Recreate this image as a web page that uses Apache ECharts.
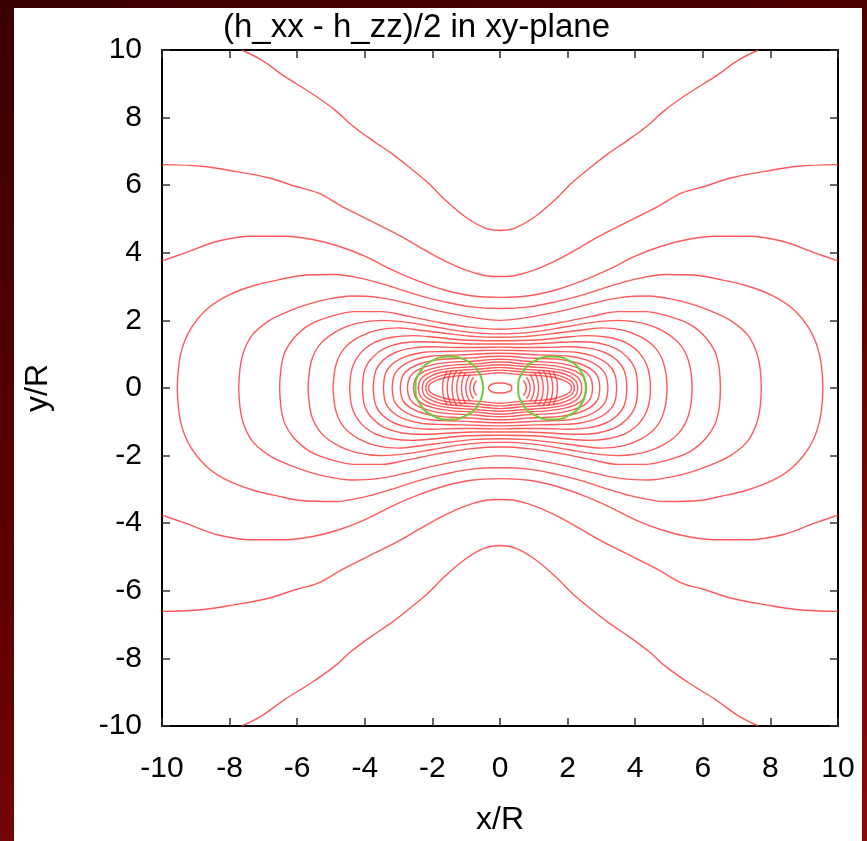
<!DOCTYPE html>
<html>
<head>
<meta charset="utf-8">
<script src="https://cdn.jsdelivr.net/npm/echarts@6/dist/echarts.min.js"></script>
<style>
    html, body {
        margin: 0;
        width: 867px;
        height: 841px;
        overflow: hidden;
        background: linear-gradient(160deg, #3a0000 0%, #5a0000 45%, #8a0a0a 100%);
    }
    #panel {
        position: absolute;
        left: 14px;
        top: 8px;
        width: 848px;
        height: 833px;
        background: #fff;
    }
</style>
</head>
<body>
<div id="panel"></div>
<script>
// tick labels
const xTicks = [-10, -8, -6, -4, -2, 0, 2, 4, 6, 8, 10]
const yTicks = [-10, -8, -6, -4, -2, 0, 2, 4, 6, 8, 10]

// contours read off the upper-left quarter (the plot is symmetric in x and y)
// open curves run from the frame to the y axis
const open1 = [[-7.64, 10], [-7.05, 9.7], [-6.36, 9.21], [-5.58, 8.72], [-4.89, 8.23], [-4.4, 7.79], [-3.81, 7.35], [-3.22, 6.95], [-2.72, 6.56], [-2.13, 6.07], [-1.64, 5.58], [-1.05, 5.08], [-0.46, 4.74], [0, 4.66]]
const open2 = [[-10, 6.61], [-8.82, 6.56], [-7.84, 6.41], [-6.85, 6.22], [-6.07, 5.97], [-5.38, 5.77], [-4.69, 5.38], [-3.9, 4.98], [-3.12, 4.59], [-2.43, 4.2], [-1.74, 3.81], [-1.05, 3.5], [-0.46, 3.33], [0, 3.3]]
const open3 = [[-10, 3.76], [-9.31, 4.0], [-8.33, 4.35], [-7.35, 4.49], [-6.36, 4.49], [-5.58, 4.4], [-4.79, 4.2], [-4.0, 3.9], [-3.22, 3.51], [-2.43, 3.17], [-1.64, 2.9], [-0.86, 2.73], [0, 2.68]]

// closed loops run from their left end on y = 0 to the y axis
const loop4 = [[-9.55, 0], [-9.45, 1.0], [-9.15, 1.75], [-8.65, 2.35], [-8.03, 2.75], [-7.25, 3.04], [-6.56, 3.2], [-5.87, 3.33], [-4.9, 3.36], [-4.0, 3.22], [-3.22, 3.0], [-2.43, 2.75], [-1.64, 2.55], [-0.86, 2.4], [0, 2.35]]
const loop5 = [[-7.73, 0], [-7.64, 0.88], [-7.35, 1.54], [-6.85, 1.98], [-6.26, 2.27], [-5.67, 2.48], [-5.08, 2.63], [-4.4, 2.72], [-3.6, 2.68], [-2.8, 2.52], [-2.0, 2.32], [-1.0, 2.12], [0, 2.0]]
const loop6 = [[-6.52, 0], [-6.42, 0.9], [-6.12, 1.45], [-5.62, 1.88], [-5.0, 2.12], [-4.3, 2.26], [-3.5, 2.26], [-2.7, 2.12], [-1.8, 1.94], [-0.9, 1.8], [0, 1.74]]
const loop7 = [[-5.68, 0], [-5.58, 0.8], [-5.3, 1.32], [-4.8, 1.7], [-4.2, 1.92], [-3.5, 2.0], [-2.8, 1.95], [-2.0, 1.82], [-1.0, 1.66], [0, 1.6]]
const loop8 = [[-4.94, 0], [-4.85, 0.7], [-4.6, 1.18], [-4.15, 1.52], [-3.6, 1.72], [-3.0, 1.78], [-2.3, 1.7], [-1.5, 1.6], [-0.7, 1.52], [0, 1.5]]
const loop9 = [[-4.45, 0], [-4.37, 0.6], [-4.12, 1.04], [-3.72, 1.34], [-3.2, 1.5], [-2.6, 1.55], [-1.9, 1.5], [-1.1, 1.42], [0, 1.4]]
const loop10 = [[-4.07, 0], [-4.0, 0.55], [-3.76, 0.92], [-3.4, 1.18], [-2.9, 1.33], [-2.3, 1.37], [-1.6, 1.34], [-0.8, 1.3], [0, 1.3]]
const loop11 = [[-3.75, 0], [-3.68, 0.5], [-3.46, 0.82], [-3.1, 1.05], [-2.6, 1.18], [-2.0, 1.22], [-1.3, 1.2], [-0.6, 1.2], [0, 1.21]]
const loop12 = [[-3.45, 0], [-3.38, 0.45], [-3.16, 0.73], [-2.8, 0.93], [-2.3, 1.05], [-1.7, 1.08], [-1.1, 1.09], [-0.5, 1.11], [0, 1.12]]
const loop13 = [[-3.19, 0], [-3.12, 0.4], [-2.9, 0.65], [-2.55, 0.83], [-2.05, 0.94], [-1.5, 0.97], [-0.9, 0.99], [-0.4, 1.02], [0, 1.03]]
const loop14 = [[-2.95, 0], [-2.88, 0.36], [-2.66, 0.58], [-2.3, 0.74], [-1.8, 0.84], [-1.3, 0.87], [-0.8, 0.89], [-0.35, 0.93], [0, 0.94]]
const loop15 = [[-2.74, 0], [-2.67, 0.32], [-2.46, 0.52], [-2.1, 0.66], [-1.6, 0.75], [-1.1, 0.78], [-0.7, 0.8], [-0.3, 0.84], [0, 0.85]]
const loop16 = [[-2.56, 0], [-2.5, 0.28], [-2.3, 0.46], [-1.95, 0.59], [-1.45, 0.67], [-0.95, 0.7], [-0.6, 0.72], [-0.25, 0.76], [0, 0.77]]
const loop17 = [[-2.42, 0], [-2.36, 0.24], [-2.18, 0.4], [-1.85, 0.52], [-1.4, 0.59], [-0.95, 0.62], [-0.55, 0.65], [-0.2, 0.68], [0, 0.69]]
const loop18 = [[-2.3, 0], [-2.25, 0.2], [-2.08, 0.34], [-1.78, 0.45], [-1.35, 0.51], [-0.95, 0.54], [-0.5, 0.57], [-0.2, 0.6], [0, 0.61]]
const loop19 = [[-2.2, 0], [-2.15, 0.16], [-1.98, 0.28], [-1.7, 0.38], [-1.3, 0.44], [-0.9, 0.46], [-0.5, 0.49], [-0.2, 0.52], [0, 0.53]]
const loop20 = [[-2.12, 0], [-2.07, 0.12], [-1.9, 0.22], [-1.62, 0.31], [-1.25, 0.36], [-0.85, 0.38], [-0.45, 0.41], [-0.2, 0.44], [0, 0.45]]

// small arcs next to each source, and the little ring at the origin
const arcsLeft = [
    [[-1.56, 0.5], [-1.7, 0], [-1.56, -0.5]],
    [[-1.42, 0.52], [-1.56, 0], [-1.42, -0.52]],
    [[-1.28, 0.52], [-1.42, 0], [-1.28, -0.52]],
    [[-1.14, 0.5], [-1.28, 0], [-1.14, -0.5]],
    [[-1.01, 0.46], [-1.14, 0], [-1.01, -0.46]],
    [[-0.89, 0.4], [-1.01, 0], [-0.89, -0.4]],
    [[-0.78, 0.32], [-0.89, 0], [-0.78, -0.32]],
    [[-0.69, 0.22], [-0.78, 0], [-0.69, -0.22]]
]
const arcsRight = [
    [[1.56, 0.5], [1.7, 0], [1.56, -0.5]],
    [[1.42, 0.52], [1.56, 0], [1.42, -0.52]],
    [[1.28, 0.52], [1.42, 0], [1.28, -0.52]],
    [[1.14, 0.5], [1.28, 0], [1.14, -0.5]],
    [[1.01, 0.46], [1.14, 0], [1.01, -0.46]],
    [[0.89, 0.4], [1.01, 0], [0.89, -0.4]],
    [[0.78, 0.32], [0.89, 0], [0.78, -0.32]],
    [[0.69, 0.22], [0.78, 0], [0.69, -0.22]]
]
const ring = [[-0.35, 0], [-0.25, 0.11], [0, 0.15], [0.25, 0.11], [0.35, 0], [0.25, -0.11], [0, -0.15], [-0.25, -0.11], [-0.35, 0]]

// green circles
const circleLeft = [[-0.5, 0], [-0.63, 0.47], [-1.0, 0.81], [-1.5, 0.93], [-2.0, 0.81], [-2.37, 0.47], [-2.5, 0], [-2.37, -0.47], [-2.0, -0.81], [-1.5, -0.93], [-1.0, -0.81], [-0.63, -0.47], [-0.5, 0]]
const circleRight = [[2.54, 0], [2.41, 0.47], [2.04, 0.81], [1.54, 0.93], [1.04, 0.81], [0.67, 0.47], [0.54, 0], [0.67, -0.47], [1.04, -0.81], [1.54, -0.93], [2.04, -0.81], [2.41, -0.47], [2.54, 0]]

const redLine = { color: '#ff3030', width: 1.4, opacity: 0.8 }

function mirrorX (q) {
    return q.concat(q.slice(0, -1).reverse().map(p => [-p[0], p[1]]))
}
function openCurves (q) {
    const up = mirrorX(q)
    return [up, up.map(p => [p[0], -p[1]])]
}
function closedLoop (q) {
    const up = mirrorX(q)
    const down = up.slice(0, -1).reverse().map(p => [p[0], -p[1]])
    return [up.concat(down)]
}

let paths = []
;[open1, open2, open3].forEach(q => { paths = paths.concat(openCurves(q)) })
;[loop4, loop5, loop6, loop7, loop8, loop9, loop10, loop11, loop12, loop13, loop14, loop15, loop16, loop17, loop18, loop19, loop20].forEach(q => { paths = paths.concat(closedLoop(q)) })

let seriesData = paths.map(d => ({
    type: 'line', data: d, smooth: 0.35, showSymbol: false, silent: true, lineStyle: redLine
}))
arcsLeft.concat(arcsRight).forEach(d => {
    seriesData.push({ type: 'line', data: d, smooth: 0.6, showSymbol: false, silent: true, lineStyle: redLine })
})
seriesData.push({ type: 'line', data: ring, smooth: 0.5, showSymbol: false, silent: true, lineStyle: redLine })
;[circleLeft, circleRight].forEach(d => {
    seriesData.push({
        type: 'line', data: d, smooth: 0.5, showSymbol: false, silent: true, z: 5,
        lineStyle: { color: '#6ccc3a', width: 2 }
    })
})

const font = 'Liberation Sans, Arial, sans-serif'
const tickStyle = { show: true, inside: true, length: 8, lineStyle: { color: '#333', width: 1.5 } }
const frameLine = { show: true, onZero: false, lineStyle: { color: '#000', width: 2 } }

let myCharts = echarts.init(document.getElementById('panel'))
let option = {
    animation: false,
    backgroundColor: '#fff',
    title: {
        text: '(h_xx - h_zz)/2 in xy-plane',
        left: 204,
        top: -2,
        textStyle: { fontFamily: font, fontSize: 33, fontWeight: 'normal', color: '#000' }
    },
    grid: { left: 146, top: 42, width: 678, height: 678 },
    xAxis: [
        {
            type: 'value', min: -10, max: 10, interval: 2,
            name: 'x/R', nameLocation: 'middle', nameGap: 78,
            nameTextStyle: { fontFamily: font, fontSize: 32, color: '#000' },
            axisLine: frameLine, axisTick: tickStyle, splitLine: { show: false },
            axisLabel: {
                margin: 28, fontFamily: font, fontSize: 30, color: '#000',
                formatter: v => xTicks.includes(v) ? String(v) : ''
            }
        },
        {
            type: 'value', position: 'top', min: -10, max: 10, interval: 2,
            axisLine: frameLine, axisTick: tickStyle, splitLine: { show: false },
            axisLabel: { show: false }
        }
    ],
    yAxis: [
        {
            type: 'value', min: -10, max: 10, interval: 2,
            name: 'y/R', nameLocation: 'middle', nameGap: 108, nameRotate: 90,
            nameTextStyle: { fontFamily: font, fontSize: 32, color: '#000' },
            axisLine: frameLine, axisTick: tickStyle, splitLine: { show: false },
            axisLabel: {
                margin: 20, fontFamily: font, fontSize: 30, color: '#000',
                formatter: v => yTicks.includes(v) ? String(v) : ''
            }
        },
        {
            type: 'value', position: 'right', min: -10, max: 10, interval: 2,
            axisLine: frameLine, axisTick: tickStyle, splitLine: { show: false },
            axisLabel: { show: false }
        }
    ],
    series: seriesData
}
myCharts.setOption(option)
window.onresize = myCharts.resize
</script>
</body>
</html>
